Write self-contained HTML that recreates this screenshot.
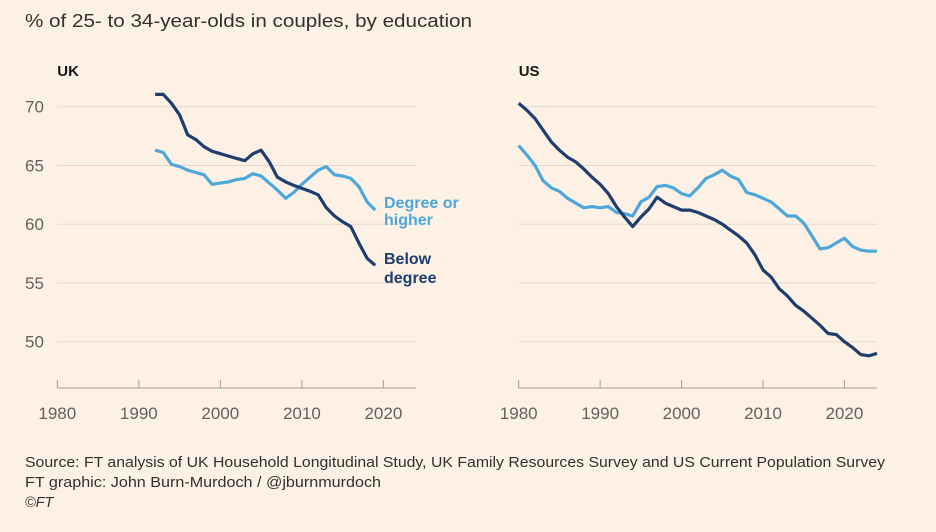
<!DOCTYPE html>
<html><head><meta charset="utf-8"><style>
html,body{margin:0;padding:0;background:#fdf1e6}
svg{display:block}
text{font-family:"Liberation Sans",sans-serif}
</style></head><body>
<svg id="c" width="936" height="532" viewBox="0 0 936 532">
<rect width="936" height="532" fill="#fdf1e6"/>
<text x="25" y="27" font-size="18" fill="#33302e" textLength="447" lengthAdjust="spacingAndGlyphs">% of 25- to 34-year-olds in couples, by education</text>
<text x="25" y="467" font-size="14.5" fill="#33302e" textLength="860" lengthAdjust="spacingAndGlyphs">Source: FT analysis of UK Household Longitudinal Study, UK Family Resources Survey and US Current Population Survey</text>
<text x="25" y="487" font-size="14.5" fill="#33302e" textLength="356" lengthAdjust="spacingAndGlyphs">FT graphic: John Burn-Murdoch / @jburnmurdoch</text>
<text x="25" y="507" font-size="14.5" fill="#33302e" font-style="italic">©FT</text>
<g id="uk"></g>
<g id="us"></g>
</svg>
<script>
const yTicks=[50,55,60,65,70];
const xTicks=[1980,1990,2000,2010,2020];
const ukYears=[1992,1993,1994,1995,1996,1997,1998,1999,2000,2001,2002,2003,2004,2005,2006,2007,2008,2009,2010,2011,2012,2013,2014,2015,2016,2017,2018,2019];
const ukBelow=[71.05,71.05,70.3,69.3,67.6,67.2,66.6,66.2,66.0,65.8,65.6,65.4,66.0,66.3,65.3,64.0,63.6,63.3,63.05,62.8,62.5,61.4,60.7,60.2,59.8,58.4,57.1,56.5];
const ukDegree=[66.3,66.1,65.1,64.9,64.6,64.4,64.2,63.4,63.5,63.6,63.8,63.9,64.3,64.1,63.5,62.9,62.2,62.7,63.4,64.0,64.6,64.9,64.2,64.1,63.9,63.2,61.9,61.2];
const usYears=[1980,1981,1982,1983,1984,1985,1986,1987,1988,1989,1990,1991,1992,1993,1994,1995,1996,1997,1998,1999,2000,2001,2002,2003,2004,2005,2006,2007,2008,2009,2010,2011,2012,2013,2014,2015,2016,2017,2018,2019,2020,2021,2022,2023,2024];
const usBelow=[70.3,69.7,69.0,68.0,67.0,66.3,65.7,65.3,64.7,64.0,63.4,62.6,61.5,60.6,59.8,60.6,61.3,62.3,61.8,61.5,61.2,61.2,61.0,60.7,60.4,60.0,59.5,59.0,58.4,57.4,56.1,55.5,54.5,53.9,53.1,52.6,52.0,51.4,50.7,50.6,50.0,49.5,48.9,48.8,49.0];
const usDegree=[66.7,65.9,65.0,63.7,63.1,62.8,62.2,61.8,61.4,61.5,61.4,61.5,61.0,60.9,60.7,61.9,62.3,63.2,63.3,63.1,62.6,62.4,63.1,63.9,64.2,64.6,64.1,63.8,62.7,62.5,62.2,61.9,61.3,60.7,60.7,60.1,59.0,57.9,58.0,58.4,58.8,58.1,57.8,57.7,57.7];
const NS='http://www.w3.org/2000/svg';
const DARK='#1f3d6e', LIGHT='#4ea7d9';
function mk(tag,attrs,parent){const e=document.createElementNS(NS,tag);for(const k in attrs)e.setAttribute(k,attrs[k]);parent.appendChild(e);return e;}
function panel(g,x0,x1,label,years,below,degree,showY){
  const X=v=>x0+(v-1980)*(x1-x0)/44;
  const Y=v=>106.7+(70-v)*11.75;
  const lab=mk('text',{x:x0,y:76,'font-size':15,'font-weight':'bold',fill:'#1a1817'},g);
  
  
  lab.textContent=label;
  yTicks.forEach(t=>{
    const l=mk('line',{x1:x0,x2:x1,y1:Y(t),y2:Y(t),stroke:'#e3d9ce','stroke-width':1},g);
    
    
    if(showY){
      const tx=mk('text',{x:25,y:Y(t)+6,'font-size':17,fill:'#66605c'},g);
      
      
      tx.textContent=t;
    }
  });
  const ax=mk('line',{x1:x0,x2:x1,y1:388,y2:388,stroke:'#a59d95','stroke-width':1},g);
  
  
  xTicks.forEach(t=>{
    const tk=mk('line',{x1:X(t),x2:X(t),y1:388,y2:380,stroke:'#a59d95','stroke-width':1},g);
    
    
    const tx=mk('text',{x:X(t),y:419,'font-size':17,fill:'#66605c','text-anchor':'middle'},g);
    
    
    tx.textContent=t;
  });
  [[degree,LIGHT,'degree-line'],[below,DARK,'below-degree-line']].forEach(([s,c,n])=>{
    const p=mk('path',{d:s.map((v,i)=>(i?'L':'M')+X(years[i]).toFixed(1)+' '+Y(v).toFixed(1)).join(''),fill:'none',stroke:c,'stroke-width':3.2,'stroke-linejoin':'round'},g);
    
    
  });
  return {X,Y};
}
const uk=panel(document.getElementById('uk'),57.3,416,'UK',ukYears,ukBelow,ukDegree,true);
panel(document.getElementById('us'),518.7,877,'US',usYears,usBelow,usDegree,false);
const g=document.getElementById('uk');
[['Degree or',208,LIGHT,'degree-label'],['higher',225,LIGHT,'degree-label'],['Below',264,DARK,'below-label'],['degree',283,DARK,'below-label']].forEach(([t,y,c,n])=>{
  const e=mk('text',{x:384,y:y,'font-size':16,'font-weight':'bold',fill:c},g);
  
  
  e.textContent=t;
});
</script>
</body></html>
